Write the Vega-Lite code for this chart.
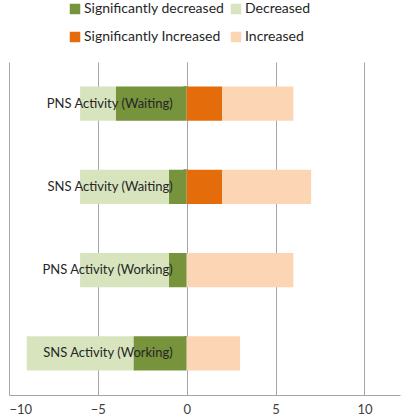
{
  "$schema": "https://vega.github.io/schema/vega-lite/v6.json",
  "width": 391,
  "height": 333,
  "autosize": {"type": "none"},
  "padding": {"left": 9, "top": 62, "right": 2, "bottom": 25},
  "config": {
    "font": "Lato",
    "view": {"stroke": null},
    "axis": {"labelFont": "Lato", "labelColor": "#404040", "labelFontSize": 13}
  },
  "data": {
    "values": [
      {"cat": "PNS Activity (Waiting)", "type": "Significantly decreased", "value": -4, "ord": 1},
      {"cat": "PNS Activity (Waiting)", "type": "Decreased", "value": -2, "ord": 2},
      {"cat": "PNS Activity (Waiting)", "type": "Significantly Increased", "value": 2, "ord": 1},
      {"cat": "PNS Activity (Waiting)", "type": "Increased", "value": 4, "ord": 2},
      {"cat": "SNS Activity (Waiting)", "type": "Significantly decreased", "value": -1, "ord": 1},
      {"cat": "SNS Activity (Waiting)", "type": "Decreased", "value": -5, "ord": 2},
      {"cat": "SNS Activity (Waiting)", "type": "Significantly Increased", "value": 2, "ord": 1},
      {"cat": "SNS Activity (Waiting)", "type": "Increased", "value": 5, "ord": 2},
      {"cat": "PNS Activity (Working)", "type": "Significantly decreased", "value": -1, "ord": 1},
      {"cat": "PNS Activity (Working)", "type": "Decreased", "value": -5, "ord": 2},
      {"cat": "PNS Activity (Working)", "type": "Significantly Increased", "value": 0, "ord": 1},
      {"cat": "PNS Activity (Working)", "type": "Increased", "value": 6, "ord": 2},
      {"cat": "SNS Activity (Working)", "type": "Significantly decreased", "value": -3, "ord": 1},
      {"cat": "SNS Activity (Working)", "type": "Decreased", "value": -6, "ord": 2},
      {"cat": "SNS Activity (Working)", "type": "Significantly Increased", "value": 0, "ord": 1},
      {"cat": "SNS Activity (Working)", "type": "Increased", "value": 3, "ord": 2}
    ]
  },
  "encoding": {
    "y": {
      "field": "cat",
      "type": "nominal",
      "sort": ["PNS Activity (Waiting)", "SNS Activity (Waiting)", "PNS Activity (Working)", "SNS Activity (Working)"],
      "scale": {"paddingInner": 0.59, "paddingOuter": 0.295},
      "axis": {
        "title": null,
        "labels": false,
        "offset": -178,
        "bandPosition": 0,
        "tickSize": 4,
        "tickColor": "#A6A6A6",
        "domainColor": "#A6A6A6",
        "grid": false
      }
    }
  },
  "layer": [
    {
      "mark": {"type": "bar"},
      "encoding": {
        "x": {
          "field": "value",
          "type": "quantitative",
          "stack": "zero",
          "scale": {"domain": [-10, 12], "nice": false},
          "axis": {
            "title": null,
            "values": [-10, -5, 0, 5, 10],
            "grid": true,
            "gridColor": "#A6A6A6",
            "domainColor": "#A6A6A6",
            "ticks": false,
            "labelPadding": 8
          }
        },
        "color": {
          "field": "type",
          "type": "nominal",
          "scale": {
            "domain": ["Significantly decreased", "Decreased", "Significantly Increased", "Increased"],
            "range": ["#77933C", "#D7E4BD", "#E46C0A", "#FCD5B5"]
          },
          "legend": {
            "title": null,
            "orient": "none",
            "legendX": 59,
            "legendY": -60,
            "columns": 2,
            "direction": "horizontal",
            "symbolType": "square",
            "symbolSize": 110,
            "symbolStrokeWidth": 0,
            "labelFontSize": 14,
            "labelFont": "Lato",
            "labelColor": "#262626",
            "labelOffset": 2,
            "columnPadding": 4,
            "rowPadding": 14,
            "padding": 0
          }
        },
        "order": {"field": "ord", "type": "quantitative"}
      }
    },
    {
      "mark": {"type": "text", "align": "right", "baseline": "middle", "dx": -14, "fontSize": 13, "font": "Lato", "color": "#262626"},
      "transform": [{"filter": "datum.type == 'Significantly Increased'"}],
      "encoding": {
        "x": {"datum": 0},
        "text": {"field": "cat"}
      }
    }
  ]
}
